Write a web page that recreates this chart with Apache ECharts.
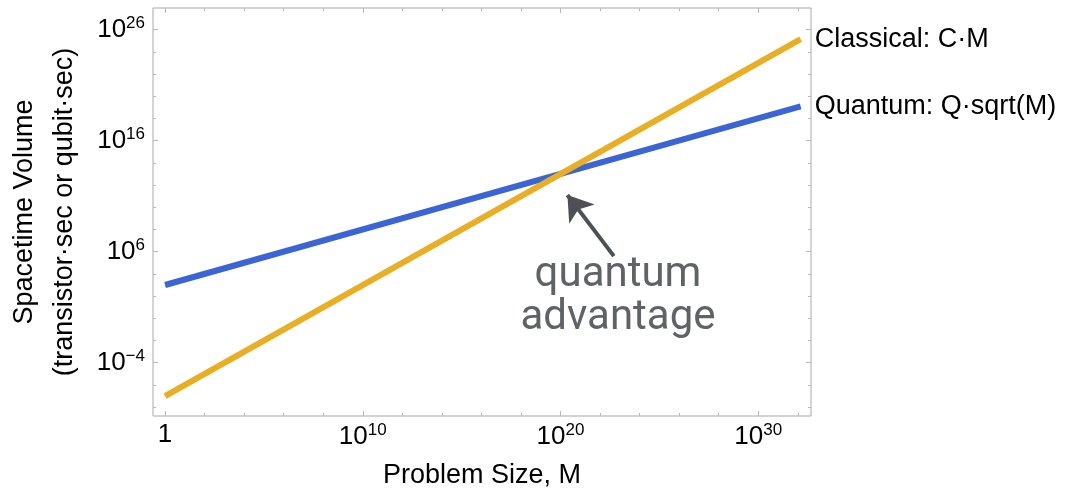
<!DOCTYPE html>
<html>
<head>
<meta charset="utf-8">
<script src="https://cdn.jsdelivr.net/npm/echarts@6/dist/echarts.min.js"></script>
<style>
  html, body { margin: 0; padding: 0; background: #fff; }
  #chart { width: 1071px; height: 494px; }
</style>
</head>
<body>
<div id="chart"></div>
<script>
// values (log-log plot, both lines are straight)
const problemSize = [1, 1.4e32];
const classical = [1e-7, 1.4e25];
const quantum = [1e3, 1.2e19];
const seriesNames = ['Classical: C·M', 'Quantum: Q·sqrt(M)'];

// tick positions, in powers of ten
const xMajor = [0, 10, 20, 30];
const xMinor = [2, 4, 6, 8, 12, 14, 16, 18, 22, 24, 26, 28, 32];
const yMajor = [-4, 6, 16, 26];
const yMinor = [-8, -6, -2, 0, 2, 4, 8, 10, 12, 14, 18, 20, 22, 24];

// where the arrow starts and where it points (the crossing), in powers of ten
const arrowFrom = [22.7, 5.6];
const arrowTo = [20.35, 11.1];

const xMin = -0.61, xMax = 32.67;
const yMin = -8.8, yMax = 27.95;

const blue = '#3b64d6';
const gold = '#e9ae22';
const frame = '#a8a8a8';

function toLog(xs, ys) {
    return xs.map((x, i) => [Math.log10(x), Math.log10(ys[i])]);
}

function powLabel(v) {
    if (v === 0) return '{b|1}';
    return '{b|10}{s|' + String(v).replace('-', '\u2212') + '}';
}

const labelRich = {
    b: { fontSize: 26, color: '#000', fontFamily: 'Liberation Sans' },
    s: { fontSize: 17, color: '#000', fontFamily: 'Liberation Sans', padding: [0, 0, 13, 0] }
};

function tickAxis(pos, min, max, values, len, withLabel) {
    return {
        type: 'value',
        position: pos,
        min: min,
        max: max,
        axisLine: { show: false, onZero: false },
        splitLine: { show: false },
        axisTick: {
            show: true,
            inside: true,
            length: len,
            customValues: values,
            lineStyle: { color: '#b8b8b8', width: 1 }
        },
        axisLabel: withLabel ? {
            show: true,
            customValues: values,
            formatter: powLabel,
            rich: labelRich,
            margin: pos === 'left' ? 8 : 6
        } : { show: false }
    };
}

const chart = echarts.init(document.getElementById('chart'));

let xMain = tickAxis('bottom', xMin, xMax, xMajor, 5, true);
xMain.name = 'Problem Size, M';
xMain.nameLocation = 'middle';
xMain.nameGap = 46;
xMain.nameTextStyle = { fontSize: 27, color: '#000', fontFamily: 'Liberation Sans' };

let yMain = tickAxis('left', yMin, yMax, yMajor, 5, true);
yMain.name = 'Spacetime Volume\n(transistor·sec or qubit·sec)';
yMain.nameLocation = 'middle';
yMain.nameGap = 68;
yMain.nameTextStyle = { fontSize: 27, lineHeight: 40, color: '#000', fontFamily: 'Liberation Sans', align: 'center' };

const option = {
    backgroundColor: '#fff',
    animation: false,
    textStyle: { fontFamily: 'Liberation Sans' },
    grid: {
        left: 153,
        top: 8,
        right: 260,
        bottom: 78,
        outerBoundsMode: 'none',
        containLabel: false,
        show: true,
        borderColor: frame,
        borderWidth: 1,
        backgroundColor: 'transparent'
    },
    xAxis: [
        xMain,
        tickAxis('bottom', xMin, xMax, xMinor, 3, false),
        tickAxis('top', xMin, xMax, xMajor, 5, false),
        tickAxis('top', xMin, xMax, xMinor, 3, false)
    ],
    yAxis: [
        yMain,
        tickAxis('left', yMin, yMax, yMinor, 3, false),
        tickAxis('right', yMin, yMax, yMajor, 5, false),
        tickAxis('right', yMin, yMax, yMinor, 3, false)
    ],
    series: [
        {
            type: 'line',
            name: seriesNames[1],
            data: toLog(problemSize, quantum),
            showSymbol: false,
            lineStyle: { color: blue, width: 6 },
            endLabel: {
                show: true,
                formatter: '{a}',
                fontSize: 27,
                color: '#000',
                fontFamily: 'Liberation Sans',
                distance: 14
            }
        },
        {
            type: 'line',
            name: seriesNames[0],
            data: toLog(problemSize, classical),
            showSymbol: false,
            lineStyle: { color: gold, width: 6 },
            endLabel: {
                show: true,
                formatter: '{a}',
                fontSize: 27,
                color: '#000',
                fontFamily: 'Liberation Sans',
                distance: 14
            },
            markLine: {
                silent: true,
                symbol: ['none', 'arrow'],
                symbolSize: 24,
                label: { show: false },
                lineStyle: { color: '#4d5156', width: 4, type: 'solid' },
                emphasis: { disabled: true },
                data: [[{ coord: arrowFrom }, { coord: arrowTo }]]
            }
        }
    ],
    graphic: [
        {
            type: 'text',
            x: 618,
            y: 254,
            style: {
                text: 'quantum\nadvantage',
                align: 'center',
                verticalAlign: 'top',
                fontSize: 42,
                lineHeight: 43,
                fontFamily: 'Roboto',
                fill: '#5f6368'
            }
        }
    ]
};

chart.setOption(option);
</script>
</body>
</html>
